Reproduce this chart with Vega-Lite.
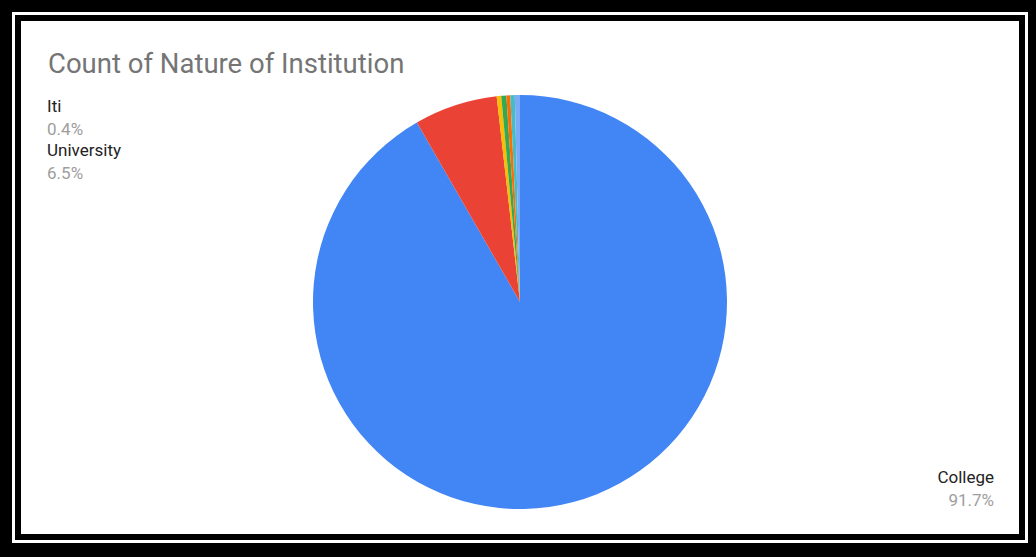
{
  "$schema": "https://vega.github.io/schema/vega-lite/v6.json",
  "width": 1036,
  "height": 557,
  "autosize": {"type": "fit", "contains": "padding"},
  "padding": {"left": 12, "top": 12, "right": 8, "bottom": 14},
  "background": "#000000",
  "title": {
    "text": "Count of Nature of Institution",
    "anchor": "start",
    "frame": "group",
    "offset": -88,
    "dx": 30,
    "fontSize": 27.5,
    "font": "Roboto",
    "fontWeight": "normal",
    "color": "#757575",
    "baseline": "alphabetic"
  },
  "data": {
    "values": [
      {"name": "College", "value": 0.917, "rank": 1},
      {"name": "University", "value": 0.065, "rank": 2},
      {"name": "Standalone", "value": 0.0035, "rank": 3},
      {"name": "Polytechnic", "value": 0.004, "rank": 4},
      {"name": "Institute", "value": 0.003, "rank": 5},
      {"name": "Other", "value": 0.0035, "rank": 6},
      {"name": "Iti", "value": 0.004, "rank": 7}
    ]
  },
  "layer": [
    {
      "data": {"values": [{}]},
      "mark": {"type": "rect", "fill": "#ffffff", "stroke": "#ffffff", "strokeWidth": 12},
      "encoding": {}
    },
    {
      "data": {"values": [{}]},
      "mark": {"type": "rect", "filled": false, "stroke": "#000000", "strokeWidth": 6},
      "encoding": {}
    },
    {
      "mark": {"type": "arc", "radius": 207, "yOffset": 24.5},
      "encoding": {
        "theta": {"field": "value", "type": "quantitative", "stack": true},
        "order": {"field": "rank", "type": "quantitative"},
        "color": {
          "field": "name",
          "type": "nominal",
          "scale": {
            "domain": ["College", "University", "Standalone", "Polytechnic", "Institute", "Other", "Iti"],
            "range": ["#4285F4", "#EA4335", "#FBBC04", "#34A853", "#FF6D01", "#46BDC6", "#7BAAF7"]
          },
          "legend": null
        }
      }
    },
    {
      "mark": {"type": "text", "clip": true, "radius": 196, "yOffset": 24.5, "dx": -470.5, "dy": 6, "align": "left", "baseline": "alphabetic", "fontSize": 17, "font": "Roboto", "color": "#222222"},
      "encoding": {
        "theta": {"field": "value", "type": "quantitative", "stack": true},
        "order": {"field": "rank", "type": "quantitative"},
        "text": {"condition": {"test": "datum.name === 'Iti'", "field": "name", "type": "nominal"}, "value": ""}
      }
    },
    {
      "mark": {"type": "text", "clip": true, "radius": 196, "yOffset": 24.5, "dx": -470.5, "dy": 29, "align": "left", "baseline": "alphabetic", "fontSize": 17, "font": "Roboto", "color": "#9E9E9E"},
      "encoding": {
        "theta": {"field": "value", "type": "quantitative", "stack": true},
        "order": {"field": "rank", "type": "quantitative"},
        "text": {"condition": {"test": "datum.name === 'Iti'", "field": "value", "type": "quantitative", "format": ".1%"}, "value": ""}
      }
    },
    {
      "mark": {"type": "text", "clip": true, "radius": 196, "yOffset": 24.5, "dx": -411.8, "dy": 40.2, "align": "left", "baseline": "alphabetic", "fontSize": 17, "font": "Roboto", "color": "#222222"},
      "encoding": {
        "theta": {"field": "value", "type": "quantitative", "stack": true},
        "order": {"field": "rank", "type": "quantitative"},
        "text": {"condition": {"test": "datum.name === 'University'", "field": "name", "type": "nominal"}, "value": ""}
      }
    },
    {
      "mark": {"type": "text", "clip": true, "radius": 196, "yOffset": 24.5, "dx": -411.8, "dy": 63.2, "align": "left", "baseline": "alphabetic", "fontSize": 17, "font": "Roboto", "color": "#9E9E9E"},
      "encoding": {
        "theta": {"field": "value", "type": "quantitative", "stack": true},
        "order": {"field": "rank", "type": "quantitative"},
        "text": {"condition": {"test": "datum.name === 'University'", "field": "value", "type": "quantitative", "format": ".1%"}, "value": ""}
      }
    },
    {
      "mark": {"type": "text", "clip": true, "radius": 196, "yOffset": 24.5, "dx": 423.5, "dy": -8.4, "align": "right", "baseline": "alphabetic", "fontSize": 17, "font": "Roboto", "color": "#222222"},
      "encoding": {
        "theta": {"field": "value", "type": "quantitative", "stack": true},
        "order": {"field": "rank", "type": "quantitative"},
        "text": {"condition": {"test": "datum.name === 'College'", "field": "name", "type": "nominal"}, "value": ""}
      }
    },
    {
      "mark": {"type": "text", "clip": true, "radius": 196, "yOffset": 24.5, "dx": 423.5, "dy": 14.6, "align": "right", "baseline": "alphabetic", "fontSize": 17, "font": "Roboto", "color": "#9E9E9E"},
      "encoding": {
        "theta": {"field": "value", "type": "quantitative", "stack": true},
        "order": {"field": "rank", "type": "quantitative"},
        "text": {"condition": {"test": "datum.name === 'College'", "field": "value", "type": "quantitative", "format": ".1%"}, "value": ""}
      }
    }
  ]
}
